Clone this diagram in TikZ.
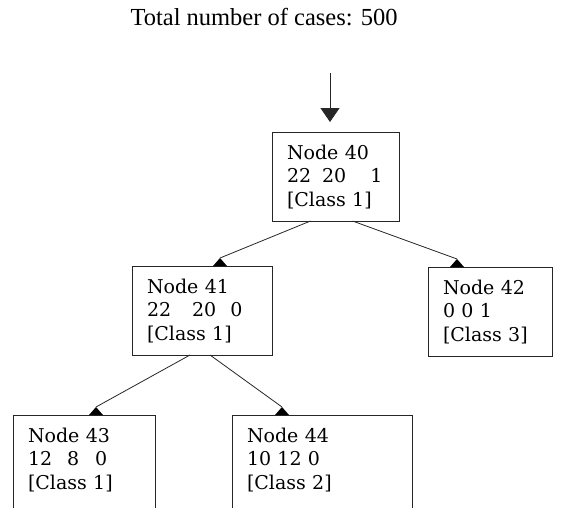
\documentclass[tikz,border=0pt]{standalone}
\usepackage{fontspec}
\setmainfont{Liberation Serif}
\newfontfamily\boxfont{DejaVu Serif}
\usetikzlibrary{arrows.meta,calc}

\begin{document}
\begin{tikzpicture}[x=1pt, y=-1pt]
  \tikzstyle{treebox}=[draw=black!85, line width=1pt, anchor=north west, inner xsep=15pt,
                       inner ysep=0pt, outer sep=0pt, align=left,
                       font=\boxfont\fontsize{19}{23.5}\selectfont]
  \tikzstyle{branch} = [draw=black!85, line width=0.8pt]
  \tikzstyle{feed} = [draw=black!85, line width=0.9pt, -{Triangle[width=19pt,length=14pt]}, shorten >=10pt]
  \tikzstyle{marker} = [fill=black]

  % constants
  \def \TopGap {27pt}
  \def \BotGap {15pt}
  \def \OpenGap {100pt}

  \useasboundingbox (0,0) rectangle (568,507);
  \clip (0,0) rectangle (568,507);

  \node[font=\fontsize{24.5}{28}\selectfont, anchor=base west] (title) at (127,25) {Total number of cases: 500};

  % the boxes
  \node[treebox, text width=97pt] (n40) at (272,132)
    {\rule{0pt}{\TopGap}Node 40\\\mbox{22\kern11pt 20\kern24pt 1}\\{}[Class 1]\rule[-\BotGap]{0pt}{\BotGap}};
  \node[treebox, text width=110pt] (n41) at (132,266)
    {\rule{0pt}{\TopGap}Node 41\\\mbox{22\kern21pt 20\kern14pt 0}\\{}[Class 1]\rule[-\BotGap]{0pt}{\BotGap}};
  \node[treebox, text width=94pt] (n42) at (428,267)
    {\rule{0pt}{\TopGap}Node 42\\0 0 1\\{}[Class 3]\rule[-\BotGap]{0pt}{\BotGap}};
  \node[treebox, text width=112pt] (n43) at (13,415)
    {\rule{0pt}{\TopGap}Node 43\\\mbox{12\kern15pt 8\kern16pt 0}\\{}[Class 1]\rule[-\OpenGap]{0pt}{\OpenGap}};
  \node[treebox, text width=150pt] (n44) at (232,415)
    {\rule{0pt}{\TopGap}Node 44\\10 12 0\\{}[Class 2]\rule[-\OpenGap]{0pt}{\OpenGap}};

  % ends of the branches
  \coordinate (in) at (330,73);
  \coordinate (h41) at (220,258);
  \coordinate (h42) at (457,259);
  \coordinate (h43) at (96,407);
  \coordinate (h44) at (282,407);

  \draw[feed] (in) -- (in |- n40.north);

  \draw[branch] ([xshift=-25pt]n40.south) -- (h41);
  \draw[branch] ([xshift=17pt]n40.south) -- (h42);
  \draw[branch] ([xshift=-12pt]n41.south) -- (h43);
  \draw[branch] ([xshift=8pt]n41.south) -- (h44);

  \foreach \h in {h41,h42,h43,h44}
    \fill[marker] (\h) -- ++(7,8) -- ++(-14,0) -- cycle;

\end{tikzpicture}
\end{document}
